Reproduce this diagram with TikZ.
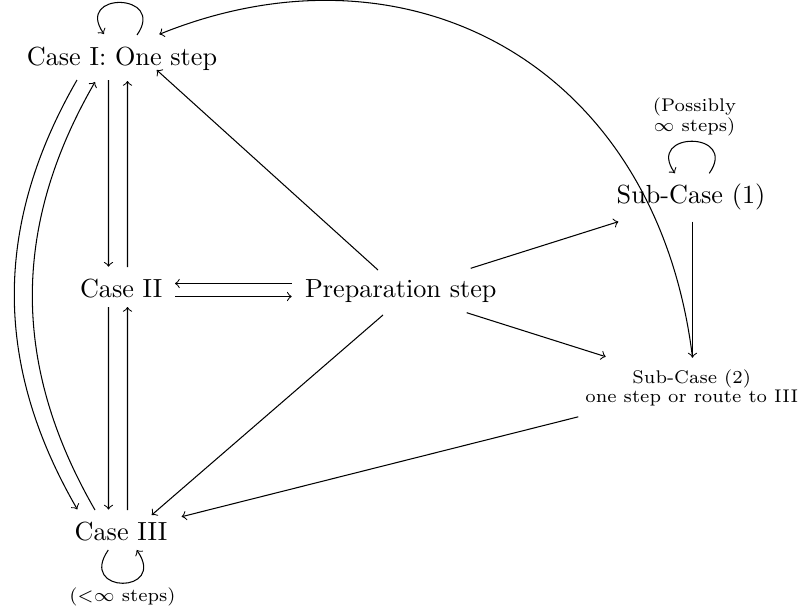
\documentclass[tikz,border=0pt]{standalone}
\usetikzlibrary{calc}
\begin{document}
\begin{tikzpicture}[x=0.3817pt,y=0.3817pt,
  mainnode/.style={anchor=base, inner sep=0pt},
  smallnode/.style={font=\fontsize{7}{7.5}\selectfont, align=center, inner sep=0pt},
  arr/.style={->}]
\useasboundingbox (0,0) rectangle (804,613);
% nodes
\node[mainnode] (c1) at (122,548) {Case I: One step};
\node[mainnode] (c2) at (121.2,316) {Case II};
\node[mainnode] (c3) at (121,73) {Case III};
\node[mainnode] (prep) at (400.8,316) {Preparation step};
\node[mainnode] (s1) at (691,409.7) {Sub-Case (1)};
\node[smallnode] (s2) at (691.7,225) {Sub-Case (2)\\one step or route to III};
\node[smallnode] (poss) at (694.5,495.8) {(Possibly\\$\infty$ steps)};
\node[smallnode, anchor=base] (fin) at (122.5,11.3) {(${<}\infty$ steps)};
% loops
\draw[arr] ($(c1.base)+(15,30)$) .. controls +(55:52) and +(125:52) .. ($(c1.base)+(-18,31)$);
\draw[arr] ($(s1.base)+(18.3,30)$) .. controls +(55:52) and +(125:52) .. ($(s1.base)+(-16,30)$);
\draw[arr] ($(c3.base)+(-12.7,-10)$) .. controls +(-125:54) and +(-55:54) .. ($(c3.base)+(15.7,-10)$);
% verticals
\draw[arr] ($(c1.base)+(-13.5,-15)$) -- ($(c2.base)+(-12.7,30.3)$);
\draw[arr] ($(c2.base)+(6.3,30)$) -- ($(c1.base)+(5.5,-16)$);
\draw[arr] ($(c2.base)+(-12.7,-10)$) -- ($(c3.base)+(-12.5,30.5)$);
\draw[arr] ($(c3.base)+(6.5,30)$) -- ($(c2.base)+(6.3,-10)$);
% horizontals
\draw[arr] ($(prep.base)+(-109.1,13.5)$) -- ($(c2.base)+(53.8,13.5)$);
\draw[arr] ($(c2.base)+(53.8,0.5)$) -- ($(prep.base)+(-109.1,0.5)$);
% from preparation
\draw[arr] ($(prep.base)+(-22.8,27)$) -- ($(c1.base)+(34.7,-5)$);
\draw[arr] ($(prep.base)+(69.9,28.7)$) -- ($(s1.base)+(-72.7,-18.4)$);
\draw[arr] ($(prep.base)+(65.9,-15.7)$) -- ($(s2.center)+(-86,31.3)$);
\draw[arr] ($(prep.base)+(-17.8,-18)$) -- ($(c3.base)+(30.7,25)$);
% sub-cases
\draw[arr] ($(s1.base)+(1.5,-18.4)$) -- ($(s2.center)+(0.8,30.5)$);
\draw[arr] ($(s2.center)+(0.8,30.5)$) .. controls +(97:295) and +(22:270) .. ($(c1.base)+(37.3,30.7)$);
\draw[arr] ($(s2.center)+(-113.4,-28.8)$) -- ($(c3.base)+(60.7,23.3)$);
% long curves between I and III
\draw[arr] ($(c1.base)+(-45,-15)$) to[bend right=30] ($(c3.base)+(-43.7,30.7)$);
\draw[arr] ($(c3.base)+(-26,30)$) to[bend left=30] ($(c1.base)+(-27,-17)$);
\end{tikzpicture}
\end{document}
